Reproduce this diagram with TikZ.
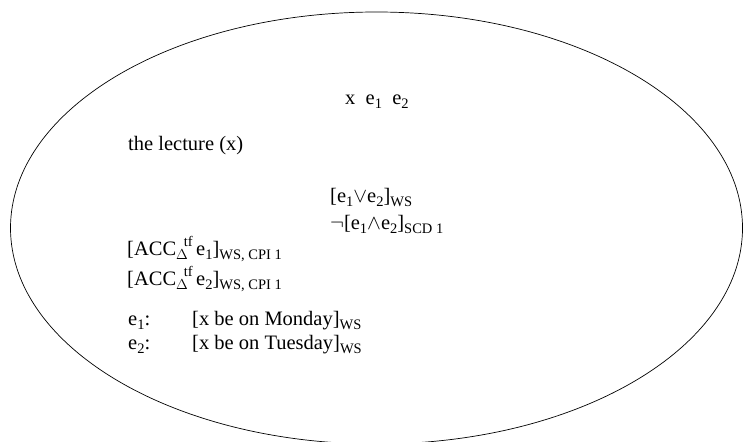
\documentclass[tikz,border=0pt]{standalone}
\usepackage{amsmath,amssymb}
\usepackage{fontspec}
\setmainfont{Liberation Serif}
\usepackage{tikz}
\usetikzlibrary{positioning,calc}
\newcommand{\sbx}[1]{\raisebox{-0.22em}{\fontsize{14.5}{15}\selectfont #1}}
\newcommand{\accop}{ACC\sbx{$\Delta$}\kern-4pt\raisebox{0.42em}{\fontsize{14.5}{15}\selectfont tf}\,}
\tikzset{
  box/.style={draw=black,line width=0.7pt},
  cond/.style={anchor=base west,inner sep=0pt,font=\fontsize{20.5}{24}\selectfont},
}

\begin{document}
\begin{tikzpicture}[x=1pt,y=-1pt]
\useasboundingbox (0,0) rectangle (743,441);
\coordinate (c) at (376.5,228);
\draw[box] (c) ellipse [x radius=366,y radius=216];
\node[cond] (univ) at (345,104) {x\ \ e\sbx{1}\ \ e\sbx{2}};
\node[cond] (lect) at (128,150) {the lecture (x)};
\node[cond] (disj) at (330,202) {[e\sbx{1}$\vee$e\sbx{2}]\sbx{WS}};
\node[cond] (conj) at (330,229) {$\neg$[e\sbx{1}$\wedge$e\sbx{2}]\sbx{SCD 1}};
\node[cond] (acc1) at (127,255) {[\accop e\sbx{1}]\sbx{WS, CPI 1}};
\node[cond] (acc2) at (127,285) {[\accop e\sbx{2}]\sbx{WS, CPI 1}};
\node[cond] (lab1) at (128,325) {e\sbx{1}:};
\node[cond] (lab2) at (128,349) {e\sbx{2}:};
\node[cond] (mon) at (192,325) {[x be on Monday]\sbx{WS}};
\node[cond] (tue) at (192,349) {[x be on Tuesday]\sbx{WS}};
\end{tikzpicture}
\end{document}
